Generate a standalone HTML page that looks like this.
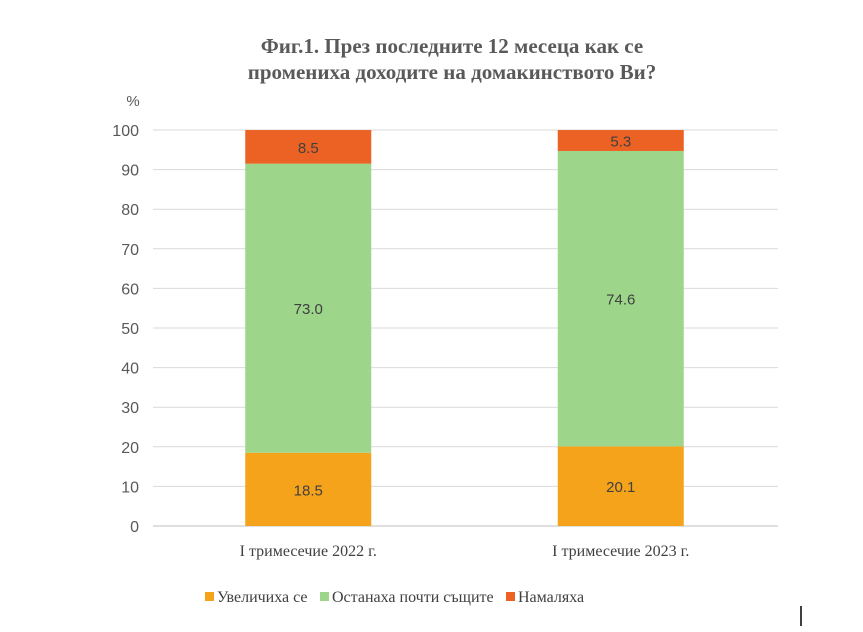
<!DOCTYPE html>
<html><head><meta charset="utf-8"><style>
body{margin:0;background:#fff;}
svg{display:block;}
.t{font-family:"Liberation Serif",serif;}
.s{font-family:"Liberation Sans",sans-serif;}
</style></head><body>
<svg id="c" width="863" height="632" xmlns="http://www.w3.org/2000/svg">
<text class="t" x="452" y="53" text-anchor="middle" font-size="21" font-weight="bold" fill="#595959">Фиг.1. През последните 12 месеца как се</text>
<text class="t" x="452" y="79" text-anchor="middle" font-size="21" font-weight="bold" fill="#595959">промениха доходите на домакинството Ви?</text>
<text class="s" x="133" y="106" text-anchor="middle" font-size="15" fill="#595959">%</text>
<g id="grid"></g><g id="bars"></g><g id="labels"></g>
<g>
<rect x="205" y="592" width="9" height="9" fill="#f5a31a"/>
<text class="t" x="217" y="602" font-size="16" fill="#404040">Увеличиха се</text>
<rect x="320" y="592" width="9" height="9" fill="#9dd58a"/>
<text class="t" x="332" y="602" font-size="16" fill="#404040">Останаха почти същите</text>
<rect x="506" y="592" width="9" height="9" fill="#ec6224"/>
<text class="t" x="518" y="602" font-size="16" fill="#404040">Намаляха</text>
</g>
<line x1="801" y1="606" x2="801" y2="626" stroke="#000" stroke-width="1.5"/>
</svg>
<script>
const categories=["I тримесечие 2022 г.","I тримесечие 2023 г."];
const increased=[18.5,20.1];
const same=[73.0,74.6];
const decreased=[8.5,5.3];
const yTicks=[0,10,20,30,40,50,60,70,80,90,100];
const NS="http://www.w3.org/2000/svg";
const y0=526,y1=130,xL=153,xR=778;
const y=v=>y0-(v/100)*(y0-y1);
const band=(xR-xL)/categories.length;
const bw=126;
const cx=i=>xL+band*(i+0.5)-1;
function mk(t,a,p){const e=document.createElementNS(NS,t);for(const k in a)e.setAttribute(k,a[k]);p.appendChild(e);return e;}
const grid=document.getElementById('grid'),bars=document.getElementById('bars'),labels=document.getElementById('labels');
yTicks.forEach(v=>{
 const l=mk('line',{x1:xL,x2:xR,y1:y(v),y2:y(v),stroke:v===0?'#bfbfbf':'#d9d9d9','stroke-width':1},grid);
 
 
 const t=mk('text',{x:139,y:y(v)+6,'text-anchor':'end','font-size':16,fill:'#595959',class:'s'},grid);
 t.textContent=v;
 
 
});
const series=[["increased",increased,"#f5a31a"],["same",same,"#9dd58a"],["decreased",decreased,"#ec6224"]];
categories.forEach((c,i)=>{
 let acc=0;
 series.forEach(([n,arr,col])=>{
  const v=arr[i];
  const r=mk('rect',{x:cx(i)-bw/2,y:y(acc+v),width:bw,height:y(acc)-y(acc+v),fill:col},bars);
  
  
  const t=mk('text',{x:cx(i),y:(y(acc)+y(acc+v))/2+6,'text-anchor':'middle','font-size':15,fill:'#404040',class:'s'},labels);
  t.textContent=v.toFixed(1);
  
  
  acc+=v;
 });
 const t=mk('text',{x:cx(i),y:556,'text-anchor':'middle','font-size':16,fill:'#404040',class:'t'},labels);
 t.textContent=c;
 
 
});
</script>
</body></html>
